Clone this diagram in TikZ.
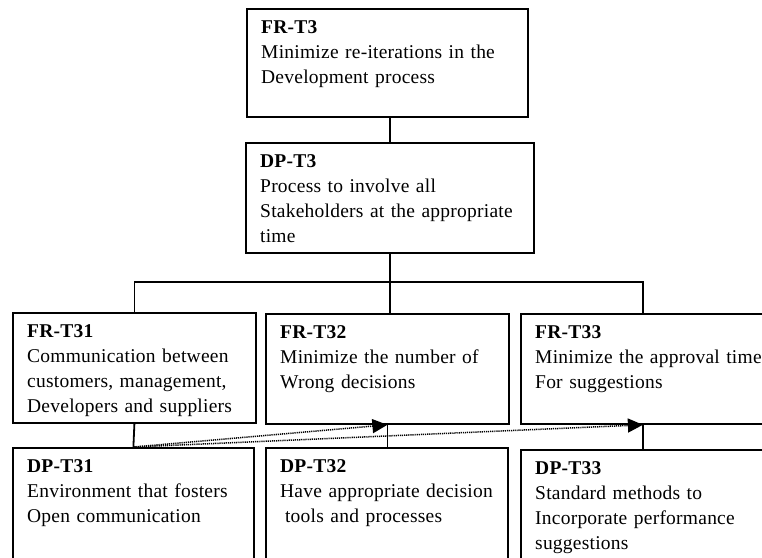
\documentclass[tikz,border=0pt]{standalone}
\usepackage{fontspec}
\setmainfont{Liberation Serif}[LetterSpace=1.2]
\usetikzlibrary{arrows.meta}

\begin{document}
\begin{tikzpicture}[x=1pt,y=-1pt,
  box/.style={draw, line width=1.8pt, inner sep=0pt, anchor=north west},
  boxtext/.style={anchor=north west, inner sep=0pt, align=left, text width=#1,
    font=\fontsize{19.5}{25}\selectfont, xshift=15pt, yshift=-7.5pt},
  link/.style={line width=1.8pt},
  trace/.style={line width=1.5pt, dash pattern=on 1.2pt off 0.9pt,
    -{Triangle[length=15pt,width=14pt]}}
]
\fill[white] (0,0) rectangle (762,557);
\useasboundingbox (0,0) rectangle (762,557);

% top level: requirement and its design parameter
\node[box, minimum width=281pt, minimum height=108pt] (fr3) at (246,8) {};
\node[box, minimum width=288pt, minimum height=110pt] (dp3) at (245,142) {};

% second level requirements
\node[box, minimum width=243pt, minimum height=110pt] (fr31) at (12,312) {};
\node[box, minimum width=243pt, minimum height=110pt] (fr32) at (265,313) {};
\node[box, minimum width=244pt, minimum height=110pt] (fr33) at (520,313) {};

% second level design parameters
\node[box, minimum width=241pt, minimum height=140pt] (dp31) at (12,447) {};
\node[box, minimum width=242pt, minimum height=140pt] (dp32) at (265,447) {};
\node[box, minimum width=244pt, minimum height=140pt] (dp33) at (520,449) {};

% box texts
\node[boxtext=270pt] (fr3-txt) at (fr3.north west)
  {\strut\textbf{FR-T3}\\Minimize re-iterations in the\\Development process};
\node[boxtext=280pt] (dp3-txt) at (dp3.north west)
  {\strut\textbf{DP-T3}\\Process to involve all\\Stakeholders at the appropriate\\time};
\node[boxtext=235pt] (fr31-txt) at (fr31.north west)
  {\strut\textbf{FR-T31}\\Communication between\\customers, management,\\Developers and suppliers};
\node[boxtext=235pt] (fr32-txt) at (fr32.north west)
  {\strut\textbf{FR-T32}\\Minimize the number of\\Wrong decisions};
\node[boxtext=240pt] (fr33-txt) at (fr33.north west)
  {\strut\textbf{FR-T33}\\Minimize the approval time\\For suggestions};
\node[boxtext=235pt] (dp31-txt) at (dp31.north west)
  {\strut\textbf{DP-T31}\\Environment that fosters\\Open communication};
\node[boxtext=235pt] (dp32-txt) at (dp32.north west)
  {\strut\textbf{DP-T32}\\Have appropriate decision\\\hspace*{0.25em}tools and processes};
\node[boxtext=240pt] (dp33-txt) at (dp33.north west)
  {\strut\textbf{DP-T33}\\Standard methods to\\Incorporate performance\\suggestions};

% hierarchy connectors
\coordinate (bus) at (388,282);
\draw[link] (dp3.north) -- (dp3.north |- fr3.south);
\draw[link] (dp3.south) -- (dp3.south |- fr32.north);
\draw[link] (fr31.north) -- (fr31.north |- bus) -- (fr33.north |- bus) -- (fr33.north);
\draw[link] (fr31.south) -- (dp31.north);
\draw[link] (fr32.south) -- (fr32.south |- dp32.north);
\draw[link] (fr33.south) -- (dp33.north);

% coupling arrows
\draw[trace] (dp31.north) -- (fr32.south);
\draw[trace] (dp31.north) -- (fr33.south);
\end{tikzpicture}
\end{document}
